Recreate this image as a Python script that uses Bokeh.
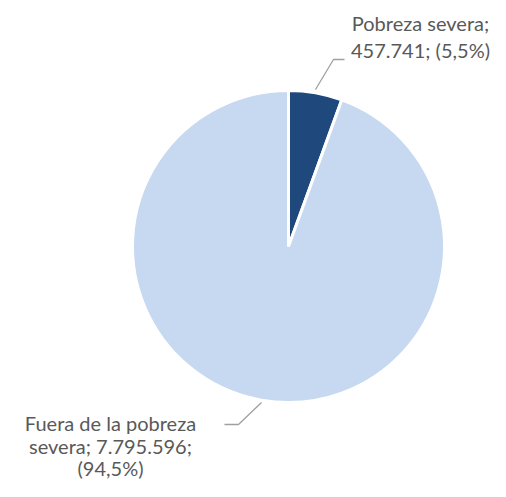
import math
from bokeh.plotting import figure
from bokeh.models import ColumnDataSource, Range1d
from bokeh.core.properties import value
from bokeh.embed import file_html
from bokeh.resources import INLINE

# ---- data ----
categories = ["Pobreza severa", "Fuera de la pobreza severa"]
values = [457741, 7795596]
colors = ["#1F497D", "#C6D9F0"]

total = sum(values)
fracs = [v / total for v in values]

def fmt_int(n):
    return f"{n:,}".replace(",", ".")

def fmt_pct(f):
    return f"{f*100:.1f}".replace(".", ",") + "%"

# wedge angles (start at top, clockwise)
starts, ends = [], []
a = math.pi / 2
for f in fracs:
    starts.append(a)
    a = a - f * 2 * math.pi
    ends.append(a)

W, H = 490, 481
p = figure(width=W, height=H, output_backend="svg", toolbar_location=None,
           x_range=Range1d(0, W), y_range=Range1d(497 - H, 497),
           min_border=0)
p.axis.visible = False
p.grid.visible = False
p.outline_line_color = None
p.background_fill_color = "white"

def Y(y_img):
    return 497 - y_img

TXT = 8  # svg text renders lower than requested baseline; compensate

cx, cy, r = 288, Y(246), 156

src = ColumnDataSource(dict(start=starts, end=ends, color=colors, name=categories))
p.wedge(x=cx, y=cy, radius=r, start_angle="start", end_angle="end",
        direction="clock", fill_color="color", line_color="white", line_width=3,
        source=src)

# leader lines
p.line(x=[315, 333, 344], y=[Y(89), Y(59), Y(59)], line_color="#A0A0A0", line_width=1.3)
p.line(x=[261, 238, 224], y=[Y(402), Y(424), Y(424)], line_color="#A0A0A0", line_width=1.3)

# labels
lab0 = [f"{categories[0]};", f"{fmt_int(values[0])}; ({fmt_pct(fracs[0])})"]
w1 = categories[1].split(" ")
lab1 = [" ".join(w1[:-1]), f"{w1[-1]}; {fmt_int(values[1])};", f"({fmt_pct(fracs[1])})"]

font = value("Lato")
p.text(x=[420] * 2, y=[Y(30 - TXT), Y(57 - TXT)], text=lab0, text_align="center",
       text_baseline="alphabetic", text_font=font, text_font_size="20px", text_color="#595959")
p.text(x=[110] * 3, y=[Y(430 - TXT), Y(453 - TXT), Y(475 - TXT)], text=lab1, text_align="center",
       text_baseline="alphabetic", text_font=font, text_font_size="20px", text_color="#595959")

open("out.html", "w").write(file_html(p, INLINE))
